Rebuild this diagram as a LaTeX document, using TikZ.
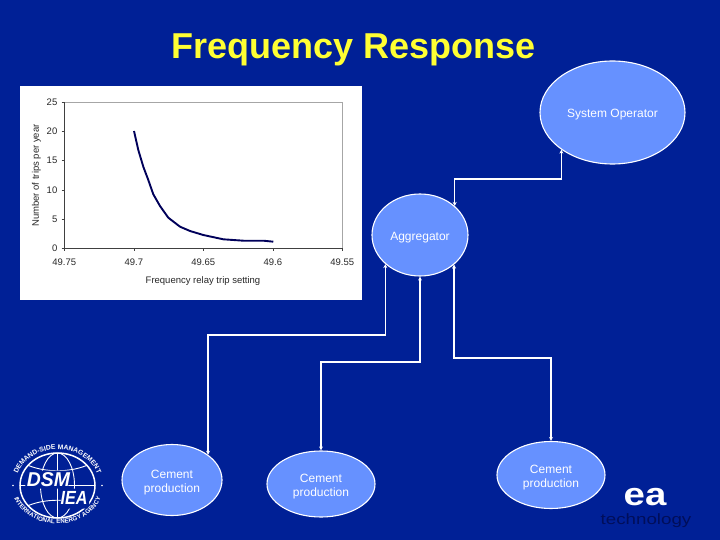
\documentclass[tikz,border=0pt]{standalone}
\usepackage{fontspec}
\setmainfont{Liberation Sans}
\usetikzlibrary{shapes.geometric,arrows.meta,decorations.text}
\definecolor{bgblue}{RGB}{0,32,150}
\definecolor{bubble}{RGB}{102,145,255}
\definecolor{titley}{RGB}{255,255,51}
\definecolor{curvec}{RGB}{0,0,90}
\definecolor{etxt}{RGB}{0,14,90}
\definecolor{chartxt}{RGB}{40,40,40}
\newcommand{\dnstrut}{\rule{0pt}{13pt}}
\tikzset{
  actor/.style={ellipse,draw=white,fill=bubble,line width=1.1pt,inner sep=0pt,text=white,align=center,font=\fontsize{12}{14.5}\selectfont},
  link/.style={draw=white,line width=1.2pt,{Stealth[length=4pt,width=4pt]}-{Stealth[length=4pt,width=4pt]}},
  ticklab/.style={font=\fontsize{9.5}{11}\selectfont,text=chartxt,inner sep=0pt},
  globeline/.style={draw=white,line width=0.9pt}
}
\begin{document}
\begin{tikzpicture}[x=1pt,y=-1pt]
\useasboundingbox (0,0) rectangle (720,540);
\fill[bgblue] (0,0) rectangle (720,540);
\node[font=\fontsize{36}{40}\selectfont\bfseries,text=titley,inner sep=0pt] (title) at (353.5,50) {Frequency Response};
% chart
\fill[white] (20,86) rectangle (362,300);
\draw[gray!70,line width=0.7pt] (64.3,248.3) rectangle (342.3,102.3);
\draw[black!75,line width=0.7pt] (64.3,102.3) -- (64.3,248.3) -- (342.3,248.3);
\foreach \v/\l in {0/0,5/5,10/10,15/15,20/20,25/25}{
  \draw[black!75,line width=0.5pt] (61.5,248.3-5.84*\v) -- (64.3,248.3-5.84*\v);
  \node[ticklab,anchor=east] (y\v) at (57.5,248.3-5.84*\v) {\l};
}
\foreach \x/\l in {64.3/49.75,133.8/49.7,203.3/49.65,272.8/49.6,342.3/49.55}{
  \draw[black!75,line width=0.5pt] (\x,248.3) -- (\x,251);
  \node[ticklab] at (\x,262.5) {\l};
}
\node[ticklab] (xlab) at (203,281) {Frequency relay trip setting};
\node[ticklab,rotate=90] (ylab) at (36.5,175.5) {Number of trips per year};
\draw[curvec,line width=1.9pt,line join=round] (134,131) -- (138.3,150) -- (143.3,166.7) -- (148.3,180) -- (153.3,194.3) -- (160,206) -- (168.3,217.7) -- (180,226.7) -- (190,231) -- (203.3,235) -- (223.3,239.3) -- (243.3,240.7) -- (263.3,240.7) -- (273.3,241.7);
% actors
\node[actor,minimum width=145pt,minimum height=103pt] (so) at (612.5,112.5) {\dnstrut System Operator};
\node[actor,minimum width=96pt,minimum height=82pt] (agg) at (420,235) {\dnstrut Aggregator};
\node[actor,minimum width=100pt,minimum height=71pt] (c1) at (172,480) {\dnstrut Cement\\production};
\node[actor,minimum width=108pt,minimum height=66pt] (c2) at (321,484) {\dnstrut Cement\\production};
\node[actor,minimum width=108pt,minimum height=67pt] (c3) at (551,475) {\dnstrut Cement\\production};
% connectors
\coordinate (e0) at (500,179);
\coordinate (e1) at (300,335);
\coordinate (e2) at (370,362);
\coordinate (e3) at (500,358);
\draw[link] (so.216.2) |- (e0) -| (agg.40.4);
\draw[link] (agg.220.4) |- (e1) -| (c1.35.9);
\draw[link] (agg.270) |- (e2) -| (c2.90);
\draw[link] (agg.319.6) |- (e3) -| (c3.90);
% DSM logo
\begin{scope}[shift={(57.5,485.5)},y=1pt]
  \draw[globeline,line width=1.5pt] (0,0) ellipse (37.5 and 32.5);
  \draw[globeline] (0,0) ellipse (17 and 32.5);
  \draw[globeline] (0,-32.5) -- (0,32.5);
  \draw[globeline] (-37.5,0) -- (37.5,0);
  \draw[globeline] (-29,20) .. controls (-12,13) and (12,13) .. (29,20);
  \draw[globeline] (-29,-20) .. controls (-12,-13) and (12,-13) .. (29,-20);
  \fill[bgblue] (-33,-3) -- (-28,15) -- (15,15) -- (10,-3) -- cycle;
  \fill[bgblue] (2,-23) -- (5,-3) -- (33,-3) -- (31,-23) -- cycle;
  \node[font=\fontsize{20}{22}\selectfont\bfseries\itshape,text=white,inner sep=0pt,xscale=0.97] (dsm) at (-9,6) {DSM};
  \node[font=\fontsize{19}{21}\selectfont\bfseries\itshape,text=white,inner sep=0pt,xscale=0.85] (iea) at (16.5,-12) {IEA};
  \path[decorate,decoration={text along path,text align=center,text={|\fontsize{6.8}{8}\selectfont\bfseries\color{white}|DEMAND-SIDE MANAGEMENT}}] (-41,7.6) arc (170:10:41.6 and 34.5);
  \path[decorate,decoration={text along path,text align=center,text={|\fontsize{6.2}{7}\selectfont\bfseries\color{white}|INTERNATIONAL ENERGY AGENCY}}] (-45.5,-4) arc (185:355:45.7 and 37.5);
  \fill[white] (-44.5,0) circle (0.8);
  \fill[white] (44.5,0) circle (0.8);
\end{scope}
% EA logo
\node[font=\fontsize{32}{34}\selectfont\bfseries,text=white,inner sep=0pt,xscale=1.2] (ea) at (645,497.5) {ea};
\node[font=\fontsize{15}{17}\selectfont,text=etxt,inner sep=0pt,xscale=1.25] (tech) at (646,521) {technology};
\end{tikzpicture}
\end{document}
